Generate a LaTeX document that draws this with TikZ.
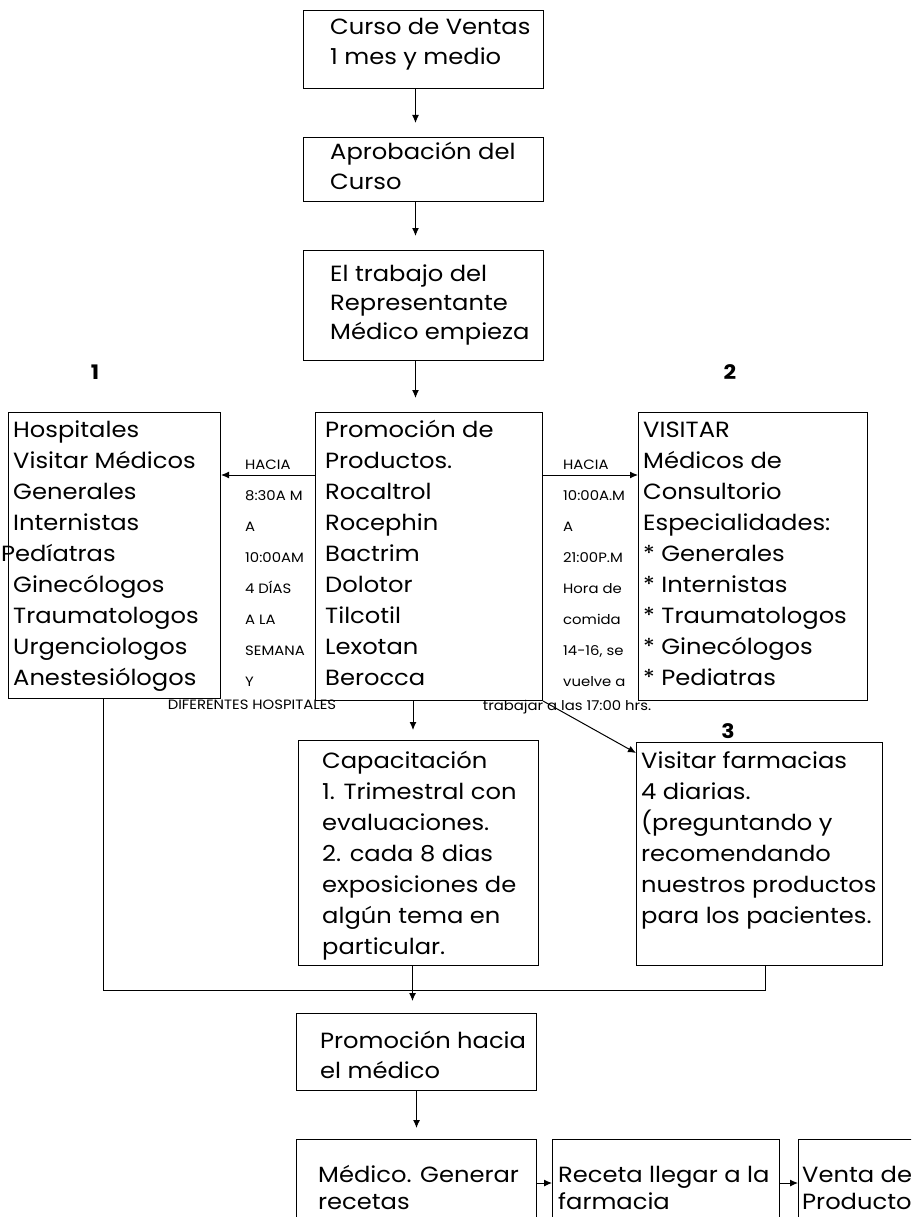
\documentclass[tikz,border=0pt]{standalone}
\usepackage{fontspec}
\setmainfont{Poppins}[FakeStretch=1.1]
\usetikzlibrary{arrows.meta}
\tikzset{
  boxnode/.style={draw, line width=1pt, anchor=north west, inner sep=0pt, minimum width=#1},
  txt/.style={anchor=mid west, inner sep=0pt, font=\fontsize{22}{26}\selectfont},
  small/.style={anchor=mid west, inner sep=0pt, font=\fontsize{13.5}{16}\selectfont},
  numlabel/.style={inner sep=0pt, font=\fontsize{20}{24}\selectfont\bfseries},
  conn/.style={line width=1pt},
  arr/.style={line width=1pt, -{Latex[length=8pt,width=7pt]}},
}
\newcommand{\boxtext}[5]{% name, x, first y, pitch, list
  \foreach \t [count=\i] in {#5} {
    \node[txt] (#1-\i) at (#2, {#3+#4*(\i-1)}) {\t};
  }
}
\newcommand{\smalltext}[5]{%
  \foreach \t [count=\i] in {#5} {
    \node[small] (#1-\i) at (#2, {#3+#4*(\i-1)}) {\t};
  }
}
\begin{document}
\begin{tikzpicture}[x=1pt,y=-1pt]
\clip (0,0) rectangle (911,1217);
\fill[white] (0,0) rectangle (911,1217);

% boxes
\node[boxnode=240, minimum height=78] (A) at (303,10) {};
\node[boxnode=240, minimum height=64] (B) at (303,137) {};
\node[boxnode=240, minimum height=110] (C) at (303,250) {};
\node[boxnode=227, minimum height=288] (P) at (315,412) {};
\node[boxnode=212, minimum height=286] (L) at (8,412) {};
\node[boxnode=229, minimum height=288] (R) at (638,412) {};
\node[boxnode=240, minimum height=225] (Cap) at (298,740) {};
\node[boxnode=246, minimum height=223] (F) at (636,742) {};
\node[boxnode=240, minimum height=77] (H) at (296,1013) {};
\node[boxnode=240, minimum height=120] (M) at (296,1139) {};
\node[boxnode=227, minimum height=120] (Rc) at (552,1139) {};
\node[boxnode=150, minimum height=120] (V) at (798,1139) {};

% texts
\boxtext{a}{330}{32}{30}{Curso de Ventas,1 mes y medio}
\boxtext{b}{330}{157}{30}{Aprobación del,Curso}
\boxtext{c}{330}{279}{29}{El trabajo del,Representante,Médico empieza}
\boxtext{p}{325}{435}{31}{Promoción de,Productos.,Rocaltrol,Rocephin,Bactrim,Dolotor,Tilcotil,Lexotan,Berocca}
\boxtext{l}{13}{435}{31}{Hospitales,Visitar Médicos,Generales,Internistas,{\hspace*{-12pt}Pedíatras},Ginecólogos,Traumatologos,Urgenciologos,Anestesiólogos}
\boxtext{r}{643}{435}{31}{VISITAR,Médicos de,Consultorio,Especialidades:,* Generales,* Internistas,* Traumatologos,* Ginecólogos,* Pediatras}
\boxtext{k}{322}{766}{31}{Capacitación,1. Trimestral con,evaluaciones.,2. cada 8 dias,exposiciones de,algún tema en,particular.}
\boxtext{f}{641}{766}{31}{Visitar farmacias,4 diarias.,{(preguntando y},recomendando,nuestros productos,para los pacientes.}
\boxtext{h}{320}{1046}{30}{Promoción hacia,el médico}
\boxtext{m}{318}{1180}{27}{Médico. Generar,recetas}
\boxtext{rc}{558}{1180}{27}{Receta llegar a la,farmacia}
\boxtext{v}{802}{1180}{27}{Venta de,Producto}

\node[numlabel] (n1) at (95,372) {1};
\node[numlabel] (n2) at (730,372) {2};
\node[numlabel] (n3) at (728,731) {3};

\smalltext{sl}{245}{467}{31}{HACIA,8:30A M,A,10:00AM,4 DÍAS,A LA,SEMANA,Y}
\smalltext{sr}{563}{467}{31}{HACIA,10:00A.M,A,21:00P.M,Hora de,comida,{14-16, se},vuelve a}
\node[small, anchor=mid] (dh) at (252,707) {DIFERENTES HOSPITALES};
\node[small, anchor=mid] (tr) at (567,708) {trabajar a las 17:00 hrs.};

% connectors
\draw[arr, shorten >=14pt] ([xshift=-8]A.south) -- ([xshift=-8]A.south |- B.north);
\draw[arr, shorten >=14pt] ([xshift=-8]B.south) -- ([xshift=-8]B.south |- C.north);
\draw[arr, shorten >=14pt] ([xshift=-8]C.south) -- ([xshift=-8]C.south |- P.north);
\draw[arr] ([yshift=-63]P.north west) -- ([yshift=-63]L.north east);
\draw[arr] ([yshift=-63]P.north east) -- ([yshift=-63]R.north west);
\draw[arr, shorten >=10pt] ([xshift=-16]P.south) -- ([xshift=-16]P.south |- Cap.north);
\draw[arr] (P.south east) -- ([yshift=-11]F.north west);
\coordinate (junc) at (412,990);
\draw[conn] ([xshift=-11]L.south) |- (junc) -| ([xshift=6]F.south);
\draw[arr, shorten >=12pt] ([xshift=-6]Cap.south) -- ([xshift=-6]Cap.south |- H.north);
\draw[arr, shorten >=11pt] (H.south) -- (H.south |- M.north);
\draw[arr] ([yshift=-44]M.north east) -- ([yshift=-44]Rc.north west);
\draw[arr] ([yshift=-44]Rc.north east) -- ([yshift=-44]V.north west);
\end{tikzpicture}
\end{document}
